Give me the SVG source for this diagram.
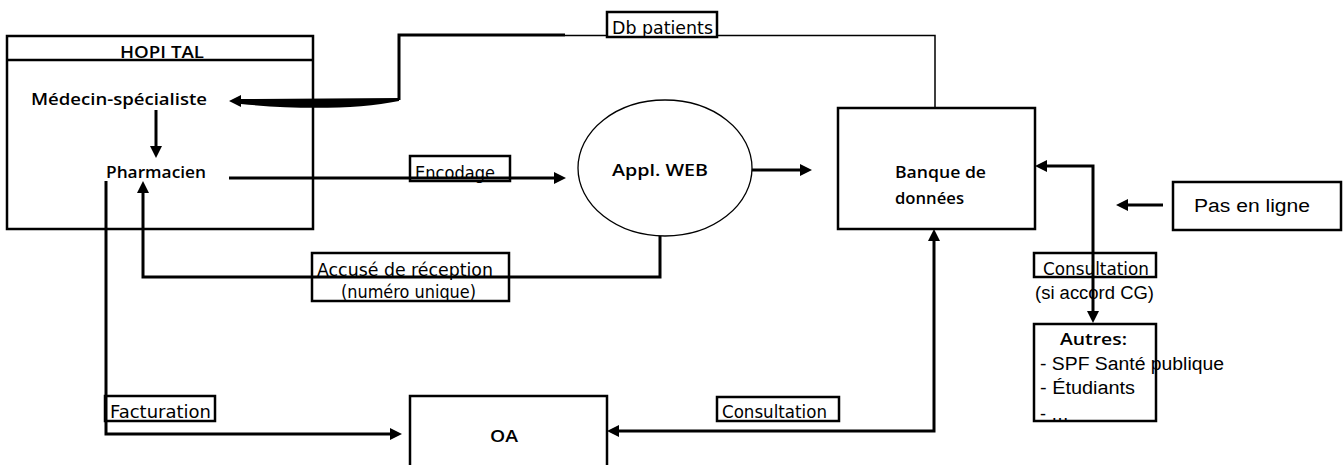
<svg xmlns="http://www.w3.org/2000/svg" width="1344" height="465" viewBox="0 0 1344 465">
<style>
.box{fill:none;stroke:#000;stroke-width:2.5}
.wbox{fill:#fff;stroke:#000;stroke-width:2.5}
.con{fill:none;stroke:#000;stroke-width:3}
.thin{fill:none;stroke:#000;stroke-width:1.5}
.b{font-family:"Open Sans","DejaVu Sans",sans-serif;font-weight:600;font-size:17px;fill:#000}
.lab{font-family:"DejaVu Sans","Liberation Sans",sans-serif;font-size:17px;fill:#000}
.ar{font-family:"Liberation Sans",Arial,sans-serif;font-size:18px;fill:#000}
</style>
<defs>
<marker id="ah" viewBox="0 0 12 12" refX="6" refY="6" markerWidth="12" markerHeight="12" markerUnits="userSpaceOnUse" orient="auto-start-reverse">
<path d="M0,0 L12,6 L0,12 Z" fill="#000"/>
</marker>
</defs>
<rect width="1344" height="465" fill="#fff"/>

<g id="connectors">
<line class="con" x1="156" y1="110" x2="156" y2="152" marker-end="url(#ah)"/>
<line class="con" x1="229" y1="178" x2="560" y2="178" marker-end="url(#ah)"/>
<line class="con" x1="752" y1="170" x2="806" y2="170" marker-end="url(#ah)"/>
<path class="con" d="M660,236 V277 H143 V187" marker-end="url(#ah)"/>
<path class="con" d="M106,181 V434 H396" marker-end="url(#ah)"/>
<path class="con" d="M613,431 H934 V235" marker-start="url(#ah)" marker-end="url(#ah)"/>
<path class="con" d="M1041,166 H1093 V317" marker-start="url(#ah)" marker-end="url(#ah)"/>
<line class="con" stroke-width="2" x1="1163" y1="205" x2="1122" y2="205" marker-end="url(#ah)"/>
<path class="con" d="M399,100 V35 H565"/>
<path class="thin" d="M565,35.5 H935 V108"/>
<path d="M399,98 L241,99 L241,95 L229,101 L241,107 L241,104 C300,110 360,109 399,101 Z" fill="#000"/>
</g>

<g id="hopital">
<rect class="box" x="7" y="36" width="306" height="193"/>
<line class="box" x1="7" y1="60" x2="313" y2="60"/>
<text class="b" x="120" y="58" textLength="84" lengthAdjust="spacingAndGlyphs">HOPI TAL</text>
</g>
<g id="medecin">
<text class="b" x="31" y="105" textLength="176" lengthAdjust="spacingAndGlyphs">Médecin-spécialiste</text>
</g>
<g id="pharmacien">
<text class="b" x="106" y="178" textLength="100" lengthAdjust="spacingAndGlyphs">Pharmacien</text>
</g>
<g id="applweb">
<ellipse cx="665" cy="168" rx="87" ry="68" fill="none" stroke="#000" stroke-width="1.3"/>
<text class="b" x="612" y="176" textLength="96" lengthAdjust="spacingAndGlyphs">Appl.  WEB</text>
</g>
<g id="banque">
<rect class="box" x="838" y="108" width="197" height="121"/>
<text class="b" x="895" y="178" textLength="91" lengthAdjust="spacingAndGlyphs">Banque de</text>
<text class="b" x="895" y="204" textLength="69" lengthAdjust="spacingAndGlyphs">données</text>
</g>
<g id="pasenligne">
<rect class="box" stroke-width="2" x="1173" y="182" width="168" height="48"/>
<text class="ar" font-size="21" x="1194" y="212" textLength="116" lengthAdjust="spacingAndGlyphs">Pas en ligne</text>
</g>
<g id="oa">
<rect class="box" x="410" y="396" width="197" height="100"/>
<text class="b" x="490" y="442" textLength="28" lengthAdjust="spacingAndGlyphs">OA</text>
</g>
<g id="autres">
<rect class="box" x="1034" y="324" width="122" height="97"/>
<text class="b" x="1060" y="345" textLength="67" lengthAdjust="spacingAndGlyphs">Autres:</text>
<text class="ar" x="1040" y="370" textLength="184" lengthAdjust="spacingAndGlyphs">- SPF Santé publique</text>
<text class="ar" x="1040" y="394" textLength="95" lengthAdjust="spacingAndGlyphs">- Étudiants</text>
<text class="ar" x="1040" y="420">- …</text>
</g>

<g id="label-db">
<rect class="wbox" x="607" y="12" width="110" height="25"/>
<text class="lab" x="612" y="34" textLength="101" lengthAdjust="spacingAndGlyphs">Db patients</text>
</g>
<g id="label-encodage">
<rect class="box" x="410" y="156" width="100" height="25"/>
<text class="lab" x="415" y="179" textLength="80" lengthAdjust="spacingAndGlyphs">Encodage</text>
</g>
<g id="label-accuse">
<rect class="box" x="312" y="253" width="197" height="48"/>
<text class="lab" x="317" y="276" textLength="176" lengthAdjust="spacingAndGlyphs">Accusé de réception</text>
<text class="lab" x="341" y="298" textLength="135" lengthAdjust="spacingAndGlyphs">(numéro unique)</text>
</g>
<g id="label-facturation">
<rect class="box" x="105" y="396" width="110" height="25"/>
<text class="lab" x="110" y="418" textLength="101" lengthAdjust="spacingAndGlyphs">Facturation</text>
</g>
<g id="label-consultation-oa">
<rect class="box" x="717" y="397" width="122" height="24"/>
<text class="lab" x="722" y="418" textLength="105" lengthAdjust="spacingAndGlyphs">Consultation</text>
</g>
<g id="label-consultation-autres">
<rect class="box" x="1034" y="253" width="122" height="24"/>
<text class="lab" x="1043" y="275" textLength="106" lengthAdjust="spacingAndGlyphs">Consultation</text>
<text class="ar" x="1035" y="299" textLength="119" lengthAdjust="spacingAndGlyphs">(si accord CG)</text>
</g>
</svg>
